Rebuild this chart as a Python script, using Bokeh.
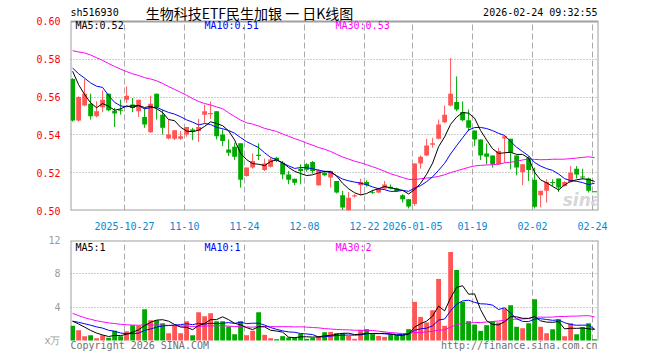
import numpy as np
import pandas as pd
from bokeh.plotting import figure
from bokeh.layouts import column
from bokeh.models import Range1d, FixedTicker, Label, PrintfTickFormatter
from bokeh.embed import file_html
from bokeh.resources import INLINE

# ---------------- data ----------------
tick_idx = [9, 19, 29, 39, 49, 57, 67, 77, 87]
tick_labels = ["2025-10-27", "11-10", "11-24", "12-08", "12-22",
               "2026-01-05", "01-19", "02-02", "02-24"]

open_ = [0.5695, 0.5476, 0.5555, 0.5565, 0.5498, 0.5546, 0.5618, 0.5528, 0.5533, 0.5586,
         0.5560, 0.5525, 0.5495, 0.5414, 0.5618, 0.5507, 0.5381, 0.5379, 0.5379, 0.5402,
         0.5428, 0.5420, 0.5507, 0.5509, 0.5525, 0.5402, 0.5323, 0.5337, 0.5355, 0.5183,
         0.5227, 0.5295, 0.5214, 0.5232, 0.5279, 0.5253, 0.5191, 0.5168, 0.5221, 0.5244,
         0.5256, 0.5133, 0.5200, 0.5174, 0.5156, 0.5081, 0.4998, 0.5074, 0.5133, 0.5151,
         0.5097, 0.5095, 0.5116, 0.5126, 0.5116, 0.5081, 0.5060, 0.5034, 0.5249, 0.5291,
         0.5348, 0.5379, 0.5467, 0.5555, 0.5574, 0.5521, 0.5477, 0.5423, 0.5376, 0.5302,
         0.5291, 0.5244, 0.5381, 0.5379, 0.5291, 0.5204, 0.5279, 0.5162, 0.5081, 0.5104,
         0.5151, 0.5169, 0.5130, 0.5151, 0.5221, 0.5180, 0.5169, 0.5102]
high = [0.5700, 0.5604, 0.5695, 0.5618, 0.5577, 0.5635, 0.5618, 0.5542, 0.5586, 0.5656,
        0.5595, 0.5586, 0.5542, 0.5607, 0.5618, 0.5533, 0.5481, 0.5425, 0.5420, 0.5442,
        0.5437, 0.5484, 0.5560, 0.5577, 0.5525, 0.5428, 0.5376, 0.5358, 0.5355, 0.5227,
        0.5302, 0.5355, 0.5274, 0.5279, 0.5284, 0.5262, 0.5209, 0.5168, 0.5244, 0.5250,
        0.5262, 0.5218, 0.5209, 0.5209, 0.5156, 0.5104, 0.5098, 0.5086, 0.5168, 0.5160,
        0.5110, 0.5121, 0.5156, 0.5138, 0.5121, 0.5086, 0.5060, 0.5249, 0.5291, 0.5379,
        0.5384, 0.5481, 0.5555, 0.5806, 0.5709, 0.5577, 0.5534, 0.5423, 0.5376, 0.5355,
        0.5291, 0.5332, 0.5397, 0.5379, 0.5291, 0.5244, 0.5288, 0.5227, 0.5104, 0.5165,
        0.5165, 0.5169, 0.5155, 0.5235, 0.5235, 0.5221, 0.5174, 0.5102]
low = [0.5470, 0.5470, 0.5551, 0.5481, 0.5493, 0.5520, 0.5525, 0.5441, 0.5507, 0.5569,
       0.5520, 0.5495, 0.5437, 0.5411, 0.5481, 0.5402, 0.5376, 0.5372, 0.5372, 0.5390,
       0.5372, 0.5362, 0.5463, 0.5484, 0.5376, 0.5341, 0.5288, 0.5267, 0.5121, 0.5179,
       0.5221, 0.5267, 0.5209, 0.5227, 0.5256, 0.5165, 0.5139, 0.5134, 0.5138, 0.5205,
       0.5195, 0.5130, 0.5181, 0.5121, 0.5090, 0.5003, 0.4993, 0.5068, 0.5081, 0.5126,
       0.5088, 0.5092, 0.5112, 0.5112, 0.5098, 0.5042, 0.5011, 0.5025, 0.5221, 0.5288,
       0.5332, 0.5376, 0.5463, 0.5551, 0.5525, 0.5472, 0.5420, 0.5341, 0.5267, 0.5244,
       0.5227, 0.5240, 0.5253, 0.5218, 0.5186, 0.5134, 0.5156, 0.5011, 0.5016, 0.5042,
       0.5130, 0.5098, 0.5127, 0.5147, 0.5169, 0.5165, 0.5095, 0.5100]
close = [0.5476, 0.5600, 0.5618, 0.5498, 0.5525, 0.5586, 0.5530, 0.5513, 0.5532, 0.5607,
         0.5542, 0.5586, 0.5455, 0.5565, 0.5546, 0.5437, 0.5402, 0.5425, 0.5393, 0.5442,
         0.5421, 0.5442, 0.5525, 0.5516, 0.5393, 0.5367, 0.5305, 0.5284, 0.5162, 0.5227,
         0.5262, 0.5288, 0.5249, 0.5270, 0.5267, 0.5191, 0.5162, 0.5147, 0.5209, 0.5216,
         0.5209, 0.5214, 0.5186, 0.5209, 0.5095, 0.5016, 0.5068, 0.5081, 0.5151, 0.5133,
         0.5095, 0.5116, 0.5138, 0.5116, 0.5103, 0.5060, 0.5021, 0.5249, 0.5284, 0.5344,
         0.5355, 0.5455, 0.5507, 0.5618, 0.5534, 0.5477, 0.5437, 0.5376, 0.5291, 0.5284,
         0.5244, 0.5314, 0.5393, 0.5305, 0.5227, 0.5244, 0.5214, 0.5020, 0.5104, 0.5151,
         0.5148, 0.5121, 0.5151, 0.5200, 0.5191, 0.5175, 0.5104, 0.5100]
volume = [1.76, 1.24, 0.52, 0.64, 0.28, 0.64, 0.32, 1.16, 0.52, 1.12,
          1.84, 1.76, 3.75, 2.44, 2.44, 2.08, 0.88, 1.76, 0.88, 2.32,
          0.64, 3.39, 2.91, 3.27, 2.32, 2.32, 1.68, 0.76, 2.32, 0.64,
          1.16, 3.39, 0.68, 0.28, 0.16, 0.52, 0.36, 0.36, 0.80, 0.20,
          0.32, 0.52, 1.00, 1.04, 0.88, 0.88, 0.56, 0.20, 1.24, 1.36,
          0.76, 0.56, 0.44, 0.76, 0.64, 0.64, 1.36, 4.63, 2.83, 2.16,
          3.63, 7.39, 1.76, 10.62, 8.46, 4.63, 2.32, 1.92, 1.16, 1.84,
          2.32, 2.16, 3.83, 4.23, 1.64, 1.48, 2.08, 4.95, 1.64, 0.88,
          1.36, 2.55, 0.52, 2.08, 0.76, 1.60, 2.08, 0.16]

# earlier sessions (not drawn as candles), estimated from where the MA lines start
prior_close = [0.580, 0.578, 0.582, 0.596, 0.600, 0.603, 0.598, 0.595, 0.600, 0.590,
               0.585, 0.580, 0.578, 0.582, 0.586, 0.590, 0.588, 0.584, 0.592, 0.595,
               0.590, 0.585, 0.575, 0.570, 0.565, 0.5955, 0.5878, 0.5718, 0.5655]
prior_volume = [9.5, 8.0, 6.5, 5.5, 4.5, 4.0, 3.6, 3.2, 3.0, 2.8,
                2.5, 2.8, 2.2, 2.6, 2.4, 2.0, 2.6, 2.3, 2.5, 2.2,
                2.6, 2.2, 2.4, 2.3, 2.1, 2.9, 2.4, 2.6, 1.9]

# ---------------- derived ----------------
n = len(close)
o = np.array(open_); c = np.array(close); h = np.array(high); l = np.array(low)
v = np.array(volume)
x = np.arange(n) + 0.35
RED, GREEN = "#ff5555", "#00a800"
colors = [RED if cc >= oo else GREEN for oo, cc in zip(o, c)]
body_top = np.maximum(o, c)
body_bot = np.minimum(np.minimum(o, c), body_top - 0.0005)

def ma(prior, vals, k):
    s = pd.Series(list(prior) + list(vals)).rolling(k).mean().values
    return s[len(prior):]

ma5, ma10, ma30 = ma(prior_close, c, 5), ma(prior_close, c, 10), ma(prior_close, c, 30)
vma5, vma10, vma30 = ma(prior_volume, v, 5), ma(prior_volume, v, 10), ma(prior_volume, v, 30)

MONO = "DejaVu Sans Mono"
FS = "10px"
GRID_H = "#9a9a9a"
GRID_V = "#aaaaaa"
BORDER = "#a0a0a0"
FOOT = "#707070"
X0, X1 = 0, 88

def lab(fig, text, xs, ys, color="black", align="left", font=MONO, size=FS, **kw):
    fig.add_layout(Label(x=xs, y=ys, x_units="screen", y_units="screen", text=text,
                         text_color=color, text_align=align, text_baseline="middle",
                         text_font=font, text_font_size=size, **kw))

def panel_frame(fig, y0, y1):
    # dashed vertical grid at the date ticks, and the panel border
    g = fig.segment(x0=tick_idx, y0=[y0] * len(tick_idx), x1=tick_idx,
                    y1=[y1] * len(tick_idx), line_color=GRID_V, line_dash="6 3",
                    line_width=1)
    g.level = "underlay"
    fig.segment(x0=[X0, X1, X0], y0=[y0, y0, y1], x1=[X0, X1, X1], y1=[y1, y1, y1],
                line_color=BORDER, line_width=2)

# ---------------- price panel (frame reaches the page top, header inside) ----------------
PLO, PHI = 0.50, 0.60
p = figure(width=660, height=232, output_backend="svg", toolbar_location=None,
           x_range=Range1d(X0, X1), y_range=Range1d(PLO, PHI + (PHI - PLO) * 21 / 190),
           min_border_left=70, min_border_right=62, min_border_top=0, min_border_bottom=21)
p.background_fill_color = "white"
p.border_fill_color = "white"
p.outline_line_color = None
p.xgrid.visible = False
p.ygrid.ticker = FixedTicker(ticks=[0.52, 0.54, 0.56, 0.58])
p.ygrid.grid_line_color = GRID_H
p.ygrid.grid_line_dash = "1 2"
panel_frame(p, PLO, PHI)
p.segment(x0=[X0], y0=[PLO], x1=[X1], y1=[PLO], line_color=BORDER, line_width=2)

p.segment(x0=x, y0=l, x1=x, y1=h, color=colors, line_width=1)
p.vbar(x=x, top=body_top, bottom=body_bot, width=0.8, fill_color=colors, line_color=None)
p.line(x, ma30, color="#ff00ff", line_width=1)
p.line(x, ma10, color="#0000ff", line_width=1)
p.line(x, ma5, color="black", line_width=1)

p.yaxis.ticker = FixedTicker(ticks=[0.50, 0.52, 0.54, 0.56, 0.58, 0.60])
p.yaxis.formatter = PrintfTickFormatter(format="%.2f")
p.yaxis.major_label_text_color = "red"
p.xaxis.ticker = FixedTicker(ticks=tick_idx)
p.xaxis.major_label_overrides = {t: s for t, s in zip(tick_idx, tick_labels)}
p.xaxis.major_label_text_color = "#0a88d2"
for ax in (p.xaxis, p.yaxis):
    ax.axis_line_color = None
    ax.major_tick_line_color = None
    ax.minor_tick_line_color = None
    ax.major_label_text_font = MONO
    ax.major_label_text_font_size = FS
    ax.major_label_standoff = 4
p.xaxis.major_label_standoff = 5

# header (frame-relative screen coords; frame is 211 px tall)
lab(p, "sh516930", 0, 198)
lab(p, "生物科技ETF民生加银 一 日K线图", 179, 198, align="center",
    font="Noto Sans CJK SC", size="14px")
lab(p, "2026-02-24 09:32:55", 527, 198, align="right")
# legends
lab(p, "MA5:%.2f" % ma5[-1], 5, 185)
lab(p, "MA10:%.2f" % ma10[-1], 134, 185, color="#0000ff")
lab(p, "MA30:%.2f" % ma30[-1], 265, 185, color="#ff00ff")
lab(p, "sina", 512, 11, color="#cccccc", align="center", font="DejaVu Sans",
    size="17px", text_font_style="bold italic", text_alpha=0.8)

# ---------------- volume panel (frame runs down to the page bottom) ----------------
VTOP = 12
q = figure(width=660, height=128, output_backend="svg", toolbar_location=None,
           x_range=p.x_range, y_range=Range1d(-VTOP * 20 / 100, VTOP),
           min_border_left=70, min_border_right=62, min_border_top=8, min_border_bottom=0)
q.background_fill_color = "white"
q.border_fill_color = "white"
q.outline_line_color = None
q.xgrid.visible = False
q.ygrid.ticker = FixedTicker(ticks=[4, 8])
q.ygrid.grid_line_color = GRID_H
q.ygrid.grid_line_dash = "1 2"
panel_frame(q, 0, VTOP)

q.vbar(x=x, top=v, bottom=0, width=0.8, fill_color=colors, line_color=None)
q.line(x, vma30, color="#ff00ff", line_width=1)
q.line(x, vma10, color="#0000ff", line_width=1)
q.line(x, vma5, color="black", line_width=1)

q.xaxis.visible = False
q.yaxis.ticker = FixedTicker(ticks=[0, 4, 8, 12])
q.yaxis.major_label_overrides = {0: "x万"}
q.yaxis.major_label_text_color = "#9a9a9a"
q.yaxis.axis_line_color = None
q.yaxis.major_tick_line_color = None
q.yaxis.minor_tick_line_color = None
q.yaxis.major_label_text_font = MONO
q.yaxis.major_label_text_font_size = FS
q.yaxis.major_label_standoff = 4

lab(q, "MA5:%d" % int(vma5[-1]), 5, 113)
lab(q, "MA10:%d" % int(vma10[-1]), 134, 113, color="#0000ff")
lab(q, "MA30:%d" % int(vma30[-1]), 265, 113, color="#ff00ff")
lab(q, "Copyright 2026 SINA.COM", 0, 15, color=FOOT)
lab(q, "http://finance.sina.com.cn", 527, 15, color=FOOT, align="right")

layout = column(p, q, spacing=0)
open("out.html", "w").write(file_html(layout, INLINE))
